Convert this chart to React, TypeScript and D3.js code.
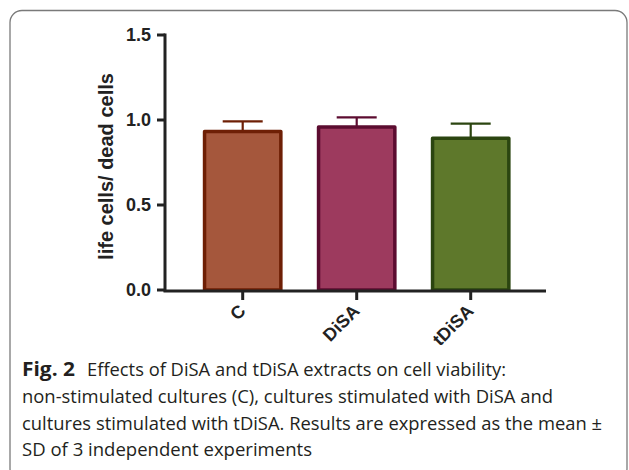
import React, { useEffect, useRef } from "react";
import * as d3 from "d3";

// data
const categories = ["C", "DiSA", "tDiSA"];
const means = [0.932, 0.959, 0.892];
const sds = [0.06, 0.057, 0.087];
const fills = ["#a5573c", "#9d3a5e", "#5e782b"];
const strokes = ["#6e1f05", "#5c0c30", "#2b4510"];
const yTicks = [0, 0.5, 1.0, 1.5];

const yTitle = "life cells/ dead cells";
const captionBold = "Fig. 2";
const captionLines = [
  "Effects of DiSA and tDiSA extracts on cell viability:",
  "non-stimulated cultures (C), cultures stimulated with DiSA and",
  "cultures stimulated with tDiSA. Results are expressed as the mean \u00b1",
  "SD of 3 independent experiments",
];

function drawChart(svgEl: SVGSVGElement) {
  const svg = d3.select(svgEl);
  svg.selectAll("*").remove();

  const axisColor = "#222";
  const axisFont = "'Liberation Sans', Arial, sans-serif";

  // rounded frame around figure + caption
  svg
    .append("rect")
    .attr("x", 10)
    .attr("y", 10.5)
    .attr("width", 617)
    .attr("height", 470)
    .attr("rx", 12)
    .attr("fill", "none")
    .attr("stroke", "#7a7a7a")
    .attr("stroke-width", 1.3);

  // scales
  const y = d3.scaleLinear().domain([0, 1.5]).range([290, 35]);
  const x = d3
    .scaleBand()
    .domain(categories)
    .range([185.7, 527.7])
    .paddingInner(0.3)
    .paddingOuter(0.15);

  const sw = 3.5;

  // bars
  categories.forEach((c, i) => {
    const x0 = x(c)!;
    const bw = x.bandwidth();
    const cx = x0 + bw / 2;
    // error bar (upper only)
    svg
      .append("line")
      .attr("x1", cx)
      .attr("x2", cx)
      .attr("y1", y(means[i]))
      .attr("y2", y(means[i] + sds[i]))
      .attr("stroke", strokes[i])
      .attr("stroke-width", 2.2);
    svg
      .append("line")
      .attr("x1", cx - 20)
      .attr("x2", cx + 20)
      .attr("y1", y(means[i] + sds[i]))
      .attr("y2", y(means[i] + sds[i]))
      .attr("stroke", strokes[i])
      .attr("stroke-width", 2.2);

    svg
      .append("rect")
      .attr("x", x0 + sw / 2)
      .attr("y", y(means[i]))
      .attr("width", bw - sw)
      .attr("height", y(0) - y(means[i]))
      .attr("fill", fills[i])
      .attr("stroke", strokes[i])
      .attr("stroke-width", sw)
      .attr("stroke-linejoin", "round");
  });

  // y axis
  svg
    .append("line")
    .attr("x1", 165)
    .attr("x2", 165)
    .attr("y1", y(1.5) - 1.5)
    .attr("y2", y(0) + 1.5)
    .attr("stroke", axisColor)
    .attr("stroke-width", 3);

  yTicks.forEach((t) => {
    svg
      .append("line")
      .attr("x1", 157)
      .attr("x2", 165)
      .attr("y1", y(t))
      .attr("y2", y(t))
      .attr("stroke", axisColor)
      .attr("stroke-width", 3);
    svg
      .append("text")
      .attr("x", 151)
      .attr("y", y(t))
      .attr("dy", "0.36em")
      .attr("text-anchor", "end")
      .style("font-family", axisFont)
      .style("font-weight", "bold")
      .style("font-size", "18px")
      .style("fill", axisColor)
      .text(t.toFixed(1));
  });

  // y title
  svg
    .append("text")
    .attr("transform", `translate(113,166.5) rotate(-90)`)
    .attr("text-anchor", "middle")
    .style("font-family", axisFont)
    .style("font-weight", "bold")
    .style("font-size", "20px")
    .style("fill", axisColor)
    .text(yTitle);

  // x axis
  svg
    .append("line")
    .attr("x1", 163.5)
    .attr("x2", 546)
    .attr("y1", y(0) + 1)
    .attr("y2", y(0) + 1)
    .attr("stroke", axisColor)
    .attr("stroke-width", 3);

  categories.forEach((c) => {
    const cx = x(c)! + x.bandwidth() / 2;
    svg
      .append("line")
      .attr("x1", cx)
      .attr("x2", cx)
      .attr("y1", y(0) + 1)
      .attr("y2", y(0) + 10)
      .attr("stroke", axisColor)
      .attr("stroke-width", 3);
    svg
      .append("text")
      .attr("transform", `translate(${cx + 4},312) rotate(-45)`)
      .attr("text-anchor", "end")
      .style("font-family", axisFont)
      .style("font-weight", "bold")
      .style("font-size", "18px")
      .style("fill", axisColor)
      .text(c);
  });

  // caption
  const capFont = "'Open Sans', 'Noto Sans', sans-serif";
  const baselines = [376, 403, 430, 456];
  const lineEnds = [506, 553, 602, 312];
  svg
    .append("text")
    .attr("x", 22)
    .attr("y", baselines[0])
    .attr("textLength", 53)
    .attr("lengthAdjust", "spacingAndGlyphs")
    .style("font-family", capFont)
    .style("font-weight", "bold")
    .style("font-size", "19px")
    .style("fill", "#231f20")
    .text(captionBold);
  captionLines.forEach((line, i) => {
    const x0 = i === 0 ? 87 : 22;
    svg
      .append("text")
      .attr("x", x0)
      .attr("y", baselines[i])
      .attr("textLength", lineEnds[i] - x0)
      .attr("lengthAdjust", "spacingAndGlyphs")
      .style("font-family", capFont)
      .style("font-size", "19px")
      .style("fill", "#231f20")
      .text(line);
  });
}

export default function App() {
  const ref = useRef<SVGSVGElement>(null);

  useEffect(() => {
    if (ref.current) drawChart(ref.current);
  }, []);

  return (
    <svg
      ref={ref}
      width={629}
      height={470}
      style={{ position: "absolute", left: 0, top: 0, background: "#fff" }}
    />
  );
}
